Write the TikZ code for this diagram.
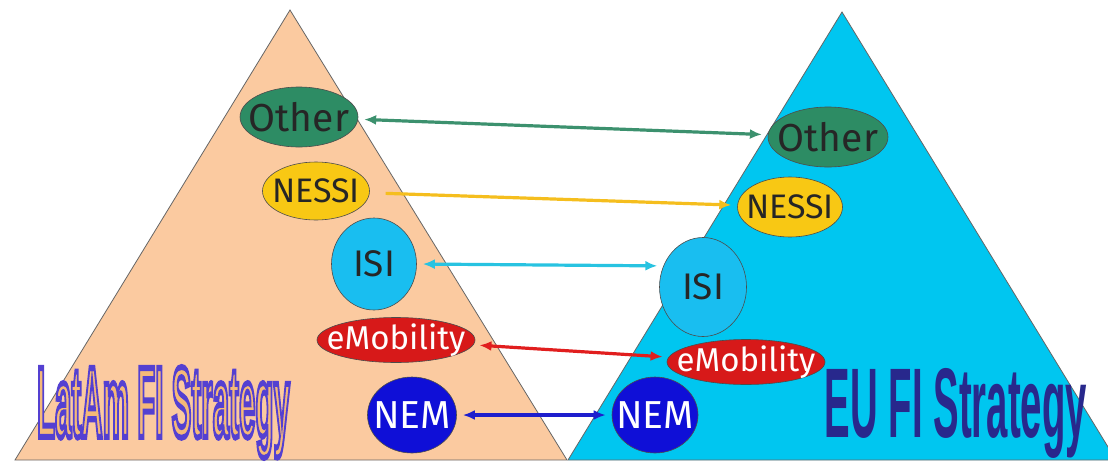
\documentclass[tikz,border=0pt]{standalone}
\usepackage{fontspec,graphicx}
\setmainfont{Fira Sans}
\newfontfamily\headfont{Liberation Sans}
\newfontfamily\latamfont{Liberation Sans}[BoldFeatures={FakeBold=6}]
\usetikzlibrary{shapes.geometric,arrows.meta}
\definecolor{latampeach}{RGB}{251,202,160}
\definecolor{eucyan}{RGB}{0,198,240}
\definecolor{othergreen}{RGB}{45,140,100}
\definecolor{nessiyellow}{RGB}{248,200,20}
\definecolor{isiblue}{RGB}{25,190,240}
\definecolor{emobred}{RGB}{215,25,25}
\definecolor{nemblue}{RGB}{15,15,215}
\definecolor{greenline}{RGB}{60,145,110}
\definecolor{yellowline}{RGB}{245,190,30}
\definecolor{cyanline}{RGB}{40,195,225}
\definecolor{redline}{RGB}{225,30,30}
\definecolor{blueline}{RGB}{30,30,205}
\definecolor{eunavy}{RGB}{40,40,140}
\definecolor{latamfill}{RGB}{245,185,120}

\begin{document}
\begin{tikzpicture}[x=1pt, y=-1pt, >={Latex[length=12pt,width=10pt]},
        blob/.style = {draw=black!70, ellipse, inner sep=0pt, line width=0.6pt},
        link/.style = {line width=3.2pt, shorten <=6pt, shorten >=6pt},
        headline/.style = {inner sep=0pt, font=\headfont\bfseries}]
        \useasboundingbox (0,0) rectangle (1108,464);
        \clip (0,0) rectangle (1108,464);
        % the two pyramids
        \draw[fill=latampeach, draw=black!60, line width=0.8pt] (290,10) -- (15,460) -- (567,460) -- cycle;
        \draw[fill=eucyan, draw=black!60, line width=0.8pt] (842,12) -- (568,460) -- (1116,460) -- cycle;
        % LatAm side
        \node[blob, fill=othergreen, minimum width=118pt, minimum height=60pt,
              label={[font=\fontsize{39}{40}\selectfont, text=black!85]center:Other}] (otherL) at (299,117) {};
        \node[blob, fill=nessiyellow, minimum width=107pt, minimum height=58pt,
              label={[font=\fontsize{34}{36}\selectfont, text=black!85]center:NESSI}] (nessiL) at (316,191) {};
        \node[blob, fill=isiblue, minimum width=85pt, minimum height=92pt,
              label={[font=\fontsize{37}{38}\selectfont, text=black!85]center:ISI}] (isiL) at (374,264) {};
        \node[blob, fill=emobred, minimum width=158pt, minimum height=45pt,
              label={[font=\fontsize{33}{34}\selectfont, text=white]center:eMobility}] (emobL) at (396,340) {};
        \node[blob, fill=nemblue, minimum width=89pt, minimum height=76pt,
              label={[font=\fontsize{39}{40}\selectfont, text=white]center:NEM}] (nemL) at (412,415) {};
        % EU side
        \node[blob, fill=othergreen, minimum width=120pt, minimum height=60pt,
              label={[font=\fontsize{39}{40}\selectfont, text=black!85]center:Other}] (otherR) at (828,137) {};
        \node[blob, fill=nessiyellow, minimum width=105pt, minimum height=60pt,
              label={[font=\fontsize{34}{36}\selectfont, text=black!85]center:NESSI}] (nessiR) at (790,207) {};
        \node[blob, fill=isiblue, minimum width=87pt, minimum height=99pt,
              label={[font=\fontsize{37}{38}\selectfont, text=black!85]center:ISI}] (isiR) at (703,287) {};
        \node[blob, fill=emobred, minimum width=158pt, minimum height=45pt,
              label={[font=\fontsize{33}{34}\selectfont, text=white]center:eMobility}] (emobR) at (746,362) {};
        \node[blob, fill=nemblue, minimum width=86pt, minimum height=76pt,
              label={[font=\fontsize{39}{40}\selectfont, text=white]center:NEM}] (nemR) at (655,415) {};
        % links
        \draw[link, <->, greenline] (otherL) -- (otherR);
        \draw[link, ->, yellowline, shorten <=16pt] (nessiL) -- (nessiR);
        \draw[link, <->, cyanline] (isiL.east) -- (isiR.152);
        \draw[link, <->, redline] (emobL) -- (emobR);
        \draw[link, <->, blueline] (nemL) -- (nemR);
        % strategy titles
        \node[inner sep=0pt, font=\latamfont\bfseries] (latam) at (163.5,412.5)
            {\resizebox*{253pt}{91pt}{\color{latamfill}\special{pdf:literal 0.33 0.25 0.82 RG}LatAm FI Strategy}};
        \node[headline, text=eunavy] (eu) at (956,413) {\resizebox*{262pt}{90pt}{EU FI Strategy}};
    \end{tikzpicture}
\end{document}
